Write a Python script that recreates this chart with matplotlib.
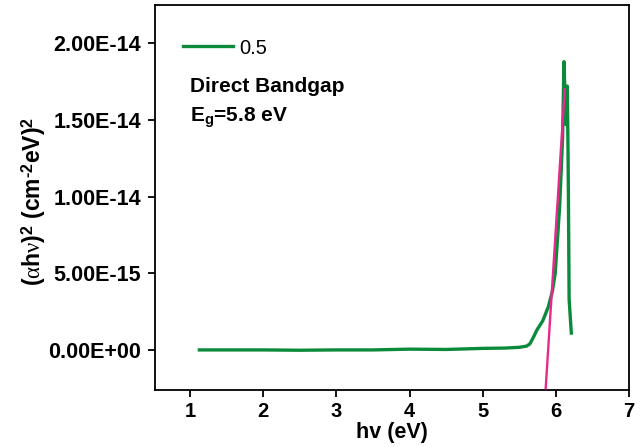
import matplotlib.pyplot as plt

plt.rcParams['font.family'] = ['Liberation Sans', 'DejaVu Sans']
plt.rcParams['mathtext.fontset'] = 'custom'
plt.rcParams['mathtext.rm'] = 'Liberation Sans:bold'
plt.rcParams['mathtext.bf'] = 'Liberation Sans:bold'
plt.rcParams['mathtext.it'] = 'Liberation Serif'

# absorption curve
hv = [1.13, 1.5, 2.0, 2.5, 3.0, 3.5, 4.0, 4.5, 5.0, 5.3, 5.5, 5.6, 5.645,
      5.70, 5.74, 5.82, 5.895, 5.95, 5.99, 6.05, 6.09, 6.11, 6.135,
      6.145, 6.155, 6.165, 6.17, 6.18, 6.21]
ahv2 = [0.0, 0.0, 0.0, -0.02e-15, 0.0, 0.0, 0.05e-15, 0.03e-15, 0.1e-15,
        0.12e-15, 0.17e-15, 0.25e-15, 0.4e-15,
        0.9e-15, 1.3e-15, 1.9e-15, 2.8e-15, 3.8e-15, 5.0e-15, 9.3e-15,
        1.37e-14, 1.88e-14, 1.47e-14,
        1.72e-14, 1.72e-14, 1.3e-14, 1.02e-14, 3.3e-15, 1.1e-15]

# linear fit for the band gap
fit_x = [5.86, 6.12]
fit_y = [-2.5e-15, 1.7e-14]

yticks = [0, 5e-15, 1e-14, 1.5e-14, 2e-14]
ytick_labels = ['0.00E+00', '5.00E-15', '1.00E-14', '1.50E-14', '2.00E-14']
xticks = [1, 2, 3, 4, 5, 6, 7]

fig = plt.figure(figsize=(6.42, 4.47), dpi=100)
ax = fig.add_axes([0.241, 0.128, 0.739, 0.861])

ax.plot(hv, ahv2, color='#0b8a3c', lw=2.4, label='0.5', zorder=2)
ax.plot(fit_x, fit_y, color='#e8288c', lw=1.7, zorder=3)

ax.set_xlim(0.52, 7)
ax.set_ylim(-2.6e-15, 2.25e-14)
ax.set_xticks(xticks)
ax.set_xticklabels([str(t) for t in xticks], fontsize=14.5, fontweight='bold')
ax.set_yticks(yticks)
ax.set_yticklabels(ytick_labels, fontsize=15.5, fontweight='bold')

ax.tick_params(direction='out', length=5, width=1.3, pad=3.5)
ax.tick_params(axis='y', pad=5)
for sp in ax.spines.values():
    sp.set_linewidth(1.3)

ax.set_xlabel('hv (eV)', fontsize=15.5, fontweight='bold', labelpad=1)
ax.set_ylabel('($\\alpha$h$\\nu$)$^2$ (cm$^{\u2010 2}$eV)$^2$', fontsize=16.5,
              fontweight='bold')
ax.yaxis.set_label_coords(-0.224, 0.49)

ax.legend(loc='center left', frameon=False, fontsize=14.5, handlelength=2.5,
          handletextpad=0.3, borderpad=0, borderaxespad=0,
          bbox_to_anchor=(0.059, 0.888))

ax.text(0.074, 0.787, 'Direct Bandgap', transform=ax.transAxes,
        fontsize=15, fontweight='bold', va='center')
ax.text(0.074, 0.706, r'E$_\mathrm{g}$=5.8 eV', transform=ax.transAxes,
        fontsize=15, fontweight='bold', va='center')

fig.savefig('out.png', dpi=100)
